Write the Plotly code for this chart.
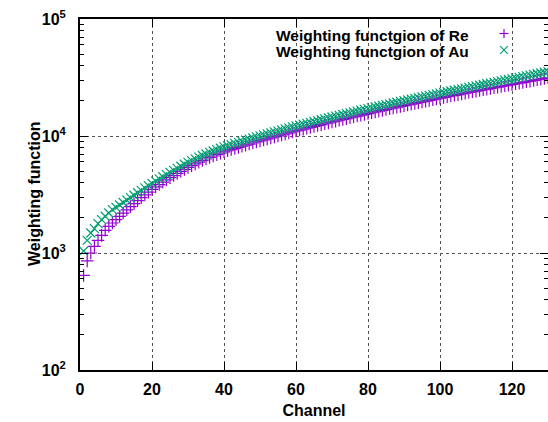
import plotly.graph_objects as go

# ---------------- data ----------------
channels = list(range(1, 131))

re_values = [
    644, 855, 1000, 1141, 1284, 1416, 1563, 1691, 1804, 1928,
    2058, 2195, 2339, 2489, 2642, 2803, 2969, 3141, 3316, 3496,
    3668, 3846, 4027, 4212, 4401, 4592, 4786, 4983, 5182, 5383,
    5578, 5774, 5970, 6166, 6361, 6554, 6745, 6934, 7120, 7303,
    7482, 7656, 7825, 7998, 8175, 8356, 8531, 8710, 8892, 9078,
    9268, 9452, 9638, 9829, 10023, 10221, 10423, 10629, 10839, 11041,
    11238, 11439, 11644, 11852, 12064, 12280, 12500, 12724, 12952, 13184,
    13404, 13628, 13856, 14087, 14322, 14561, 14804, 15051, 15302, 15558,
    15803, 16052, 16306, 16563, 16825, 17090, 17360, 17634, 17912, 18195,
    18465, 18739, 19017, 19299, 19585, 19876, 20171, 20470, 20774, 21082,
    21375, 21672, 21974, 22280, 22590, 22904, 23222, 23545, 23873, 24205,
    24525, 24849, 25177, 25510, 25847, 26188, 26534, 26885, 27240, 27600,
    27960, 28330, 28700, 29080, 29460, 29850, 30240, 30640, 31040, 31450,
]

au_values = [
    1040, 1283, 1482, 1617, 1784, 1930, 2060, 2198, 2350, 2455,
    2573, 2700, 2832, 2972, 3118, 3271, 3432, 3598, 3764, 3941,
    4115, 4296, 4487, 4682, 4882, 5082, 5296, 5514, 5734, 5943,
    6158, 6374, 6591, 6807, 7023, 7236, 7446, 7655, 7860, 8063,
    8260, 8452, 8639, 8830, 9025, 9225, 9418, 9616, 9817, 10022,
    10232, 10435, 10640, 10851, 11065, 11284, 11507, 11734, 11966, 12189,
    12384, 12606, 12832, 13061, 13295, 13533, 13775, 14022, 14273, 14529,
    14771, 15018, 15269, 15524, 15783, 16046, 16314, 16586, 16863, 17145,
    17415, 17689, 17969, 18252, 18541, 18833, 19131, 19433, 19739, 20051,
    20348, 20650, 20957, 21267, 21583, 21903, 22228, 22558, 22893, 23232,
    23560, 23900, 24240, 24590, 24940, 25300, 25660, 26030, 26400, 26780,
    27160, 27550, 27940, 28340, 28740, 29150, 29570, 29990, 30420, 30850,
    31290, 31740, 32190, 32650, 33120, 33590, 34070, 34560, 35050, 35550,
]

x_ticks = [0, 20, 40, 60, 80, 100, 120]
y_ticks = [100, 1000, 10000, 100000]
y_tick_labels = ["10<sup>2</sup>", "10<sup>3</sup>", "10<sup>4</sup>", "10<sup>5</sup>"]
y_minor = [m * d for d in (100, 1000, 10000) for m in range(2, 10)]
series_names = ["Weighting functgion of Re", "Weighting functgion of Au"]
x_title = "Channel"
y_title = "Weighting function"

# ---------------- styles ----------------
RE_COLOR = "#9400D3"
AU_COLOR = "#009E73"
FONT = "Liberation Sans"
FS = 16
W, H = 548, 422
ML, MR, MT, MB = 80, 0, 19, 52
PW, PH = W - ML - MR, H - MT - MB


def px_x(p):
    return (p - ML) / PW


def px_y(p):
    return (H - MB - p) / PH


fig = go.Figure()
fig.add_trace(go.Scatter(
    x=channels, y=re_values, mode="markers", name=series_names[0],
    marker=dict(symbol="cross-thin", size=9, color=RE_COLOR,
                line=dict(color=RE_COLOR, width=1.2)),
    showlegend=False, hoverinfo="skip"))
fig.add_trace(go.Scatter(
    x=channels, y=au_values, mode="markers", name=series_names[1],
    marker=dict(symbol="x-thin", size=9, color=AU_COLOR,
                line=dict(color=AU_COLOR, width=1.2)),
    showlegend=False, hoverinfo="skip"))
# invisible trace to carry the right-hand (mirror) tick axis
fig.add_trace(go.Scatter(
    x=channels, y=re_values, yaxis="y2", mode="lines", opacity=0,
    line=dict(width=0), showlegend=False, hoverinfo="skip"))

bold = dict(family=FONT, size=FS, color="black", weight="bold")
key_font = dict(family=FONT, size=15.5, color="black", weight="bold")

fig.update_layout(
    width=W, height=H,
    margin=dict(l=ML, r=MR, t=MT, b=MB, pad=0),
    paper_bgcolor="white", plot_bgcolor="white",
    showlegend=False,
    xaxis=dict(
        range=[0, 130], tickmode="array", tickvals=x_ticks,
        ticks="inside", ticklen=8, tickwidth=1, tickcolor="black",
        showline=True, linecolor="black", linewidth=2, mirror="ticks",
        showgrid=True, gridcolor="#555555", griddash="dot", gridwidth=1,
        zeroline=False, tickfont=bold, ticklabelstandoff=4,
        title=dict(text=x_title, font=bold, standoff=8),
    ),
    yaxis=dict(
        type="log", range=[2, 5], tickmode="array", tickvals=y_ticks,
        ticktext=y_tick_labels,
        ticks="inside", ticklen=8, tickwidth=1, tickcolor="black",
        showline=True, linecolor="black", linewidth=2, mirror=False,
        showgrid=True, gridcolor="#555555", griddash="dot", gridwidth=1,
        zeroline=False, tickfont=bold, ticklabelstandoff=9,
        minor=dict(tickmode="array", tickvals=y_minor, ticks="inside",
                   ticklen=4, tickwidth=1, tickcolor="black", showgrid=False),
    ),
    yaxis2=dict(
        type="log", range=[2, 5], overlaying="y", side="right",
        tickmode="array", tickvals=y_ticks, showticklabels=False,
        ticks="inside", ticklen=8, tickwidth=1, tickcolor="black",
        showline=False, showgrid=False, zeroline=False,
        minor=dict(tickmode="array", tickvals=y_minor, ticks="inside",
                   ticklen=4, tickwidth=1, tickcolor="black", showgrid=False),
    ),
)

# y-axis title
fig.add_annotation(text=y_title, xref="paper", yref="paper",
                   x=px_x(34), y=px_y(194), xanchor="center", yanchor="middle",
                   textangle=-90, showarrow=False, font=bold)

# opaque key box (hides grid lines behind the key, like gnuplot)
fig.add_shape(type="rect", xref="paper", yref="paper",
              x0=px_x(268), x1=1.0, y0=px_y(58), y1=1.0,
              fillcolor="white", line=dict(width=0), layer="between")

# key text
for i, name in enumerate(series_names):
    fig.add_annotation(text=name, xref="paper", yref="paper",
                       x=px_x(471), y=px_y(35 + 16.5 * i),
                       xanchor="right", yanchor="middle", showarrow=False,
                       font=key_font)

# key samples: "+" and "x"
cx, cy0, cy1, hs = 504, 33.5, 50, 4.5
fig.add_shape(type="line", xref="paper", yref="paper",
              x0=px_x(cx - hs), x1=px_x(cx + hs), y0=px_y(cy0), y1=px_y(cy0),
              line=dict(color=RE_COLOR, width=1.2))
fig.add_shape(type="line", xref="paper", yref="paper",
              x0=px_x(cx), x1=px_x(cx), y0=px_y(cy0 - hs), y1=px_y(cy0 + hs),
              line=dict(color=RE_COLOR, width=1.2))
d = 3.8
fig.add_shape(type="line", xref="paper", yref="paper",
              x0=px_x(cx - d), x1=px_x(cx + d), y0=px_y(cy1 - d), y1=px_y(cy1 + d),
              line=dict(color=AU_COLOR, width=1.2))
fig.add_shape(type="line", xref="paper", yref="paper",
              x0=px_x(cx - d), x1=px_x(cx + d), y0=px_y(cy1 + d), y1=px_y(cy1 - d),
              line=dict(color=AU_COLOR, width=1.2))

fig.write_html("out.html")
